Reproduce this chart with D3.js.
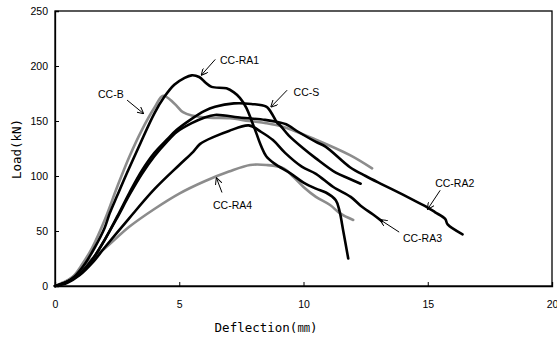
<!DOCTYPE html>
<html><head><meta charset="utf-8">
<script src="https://cdn.jsdelivr.net/npm/d3@7"></script>
<style>html,body{margin:0;padding:0;background:#fff;}svg{display:block;}</style>
</head><body>
<svg id="c" width="557" height="340"></svg>
<script>
// ---- data (deflection mm, load kN) ----
const xTicks = [0, 5, 10, 15, 20];
const yTicks = [0, 50, 100, 150, 200, 250];
const ccB = [[0,0],[0.3,3],[0.7,8],[1.1,20],[1.5,35],[2,60],[2.5,90],[3,118],[3.5,142],[4,162],[4.35,173],[4.8,166],[5.15,158],[5.5,155],[6.2,153],[7.04,152.5],[7.8,150],[8.5,148],[9.2,144.5],[10.5,133],[11.87,119],[12.76,107]];
const ccRA1 = [[0,0],[0.4,3],[0.8,9],[1.2,20],[1.6,35],[2,53],[2.2,66],[2.5,82],[2.9,103],[3.4,128],[4,157],[4.4,172],[4.8,183],[5.2,189],[5.5,191.5],[5.8,190],[6.05,185],[6.3,181],[6.9,179.7],[7.2,176],[7.44,171],[7.7,162],[7.9,151],[8.1,139],[8.3,127],[8.5,118],[8.85,111],[9.46,102.6],[10,94],[10.5,88.5],[10.9,85],[11.3,78],[11.45,68],[11.6,50],[11.8,25]];
const ccS = [[0,0],[0.5,4],[1,11],[1.5,24],[2,42],[2.5,63],[3,85],[3.5,105],[4,121],[4.5,133],[4.9,142],[5.5,152],[6,159],[6.44,163],[7.2,166],[7.9,165.5],[8.5,163],[8.77,155],[8.92,149],[9.1,145],[9.4,137],[10,125],[10.5,116],[11.3,103],[11.8,98],[12.3,93]];
const ccRA2 = [[0,0],[0.5,4],[1,11],[1.5,24],[2,42],[2.5,62],[3,83],[3.5,102],[4,118],[4.5,131],[4.9,140],[5.5,148],[6,153],[6.44,155.5],[7.5,153],[8.45,151],[8.96,149],[9.3,147],[9.8,140],[10.5,131],[10.9,126.5],[11.87,108],[12.5,100],[13.2,92],[14,83],[14.6,76],[14.95,72],[15.3,67],[15.7,61],[15.8,56],[16.4,47]];
const ccRA3 = [[0,0],[0.5,3],[1,10],[1.5,21],[2,35],[3,62],[4,88],[5,110],[5.56,122],[5.83,129],[6.44,136],[7,141],[7.8,146],[8.3,140],[8.77,132.7],[9.26,121],[9.93,108.5],[10.5,102],[11.2,90],[11.9,81],[12.3,73],[12.8,65],[13.15,59]];
const ccRA4 = [[0,0],[0.5,5],[1,14],[1.5,25],[2,34],[3,54],[4,70],[5,84],[6,95],[7,104],[7.85,110],[8.5,110],[9.2,107],[9.6,99],[10,90],[10.5,81],[11.07,73.6],[11.47,66],[12,60]];
const seriesNames = ["CC-B","CC-RA1","CC-S","CC-RA2","CC-RA3","CC-RA4"];
const seriesData = [ccB, ccRA1, ccS, ccRA2, ccRA3, ccRA4];
const seriesColor = ["#8c8c8c","#000","#000","#000","#000","#8c8c8c"];
// label text position (data coords, left edge) and arrow from -> to (data coords)
const labelPos = [[1.73,174],[6.64,205.5],[9.6,176],[15.3,93.6],[14.0,43.6],[6.36,73.6]];
const arrowFrom = [[2.9,169],[6.45,206],[9.34,178],[15.5,87],[13.85,49],[6.72,85]];
const arrowTo   = [[3.55,157],[5.9,192],[8.7,163],[15.0,70],[13.1,60],[6.5,98]];

const svg = d3.select("#c");
const x = d3.scaleLinear().domain([0,20]).range([55,552]);
const y = d3.scaleLinear().domain([0,250]).range([286,11]);

svg.append("defs").append("marker").attr("id","ah").attr("viewBox","0 0 10 10")
  .attr("refX",9).attr("refY",5).attr("markerWidth",7).attr("markerHeight",7)
  .attr("orient","auto").attr("markerUnits","userSpaceOnUse")
  .append("path").attr("d","M0,0 L10,5 L0,10").attr("fill","none").attr("stroke","#000").attr("stroke-width",1.4);

// frame
svg.append("rect").attr("x",55).attr("y",11).attr("width",552-55).attr("height",286-11)
  .attr("fill","none").attr("stroke","#000").attr("stroke-width",1.3);

// axes with inward ticks
const xa = svg.append("g").attr("transform","translate(0,286)")
  .call(d3.axisBottom(x).tickValues(xTicks).tickSize(-4).tickPadding(15).tickFormat(d3.format("d")));
const ya = svg.append("g").attr("transform","translate(55,0)")
  .call(d3.axisLeft(y).tickValues(yTicks).tickSize(-4).tickPadding(7).tickFormat(d3.format("d")));
[xa,ya].forEach(g=>{
  g.select(".domain").attr("stroke","#000").attr("stroke-width",1.3);
  g.selectAll("line").attr("stroke","#000");
  g.selectAll("text").attr("font-family","Liberation Sans, Arial, sans-serif").attr("font-size",10.5).attr("fill","#000");
});

// curves
const line = d3.line().x(d=>x(d[0])).y(d=>y(d[1])).curve(d3.curveCatmullRom.alpha(0.5));
const order = [0,5,4,3,2,1];
order.forEach(i=>{
  svg.append("path").datum(seriesData[i]).attr("d",line).attr("fill","none")
    .attr("stroke",seriesColor[i]).attr("stroke-width",2.6)
    .attr("stroke-linejoin","round").attr("stroke-linecap","round");
});

// labels and arrows
seriesNames.forEach((n,i)=>{
  svg.append("line").attr("x1",x(arrowFrom[i][0])).attr("y1",y(arrowFrom[i][1]))
    .attr("x2",x(arrowTo[i][0])).attr("y2",y(arrowTo[i][1]))
    .attr("stroke","#000").attr("stroke-width",1).attr("marker-end","url(#ah)");
  svg.append("text").attr("x",x(labelPos[i][0])).attr("y",y(labelPos[i][1]))
    .attr("dy","0.35em").attr("font-family","Liberation Sans, Arial, sans-serif")
    .attr("font-size",10.5).attr("fill","#000").text(n);
});

// axis titles
svg.append("text").attr("x",266).attr("y",328).attr("dy","0.35em").attr("text-anchor","middle")
  .attr("font-family","DejaVu Sans Mono, Noto Sans CJK KR, monospace").attr("font-size",12.5).attr("fill","#000")
  .text("Deflection(㎜)");
svg.append("text").attr("transform","translate(17,149) rotate(-90)").attr("dy","0.35em").attr("text-anchor","middle")
  .attr("font-family","DejaVu Sans Mono, Noto Sans CJK KR, monospace").attr("font-size",12.5).attr("fill","#000")
  .text("Load(kN)");
</script>
</body></html>
